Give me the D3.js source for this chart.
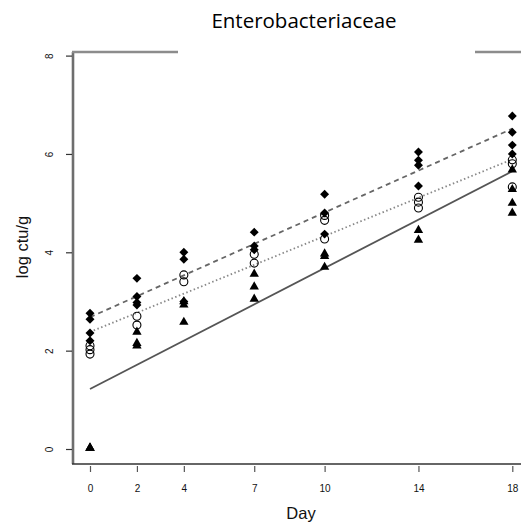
<!DOCTYPE html>
<html>
<head>
<meta charset="utf-8">
<script src="https://cdn.jsdelivr.net/npm/d3@7"></script>
<style>
  body { margin: 0; background: #fff; }
  svg { display: block; }
</style>
</head>
<body>
<svg width="521" height="529"></svg>
<script>
// values
var days = [0, 2, 4, 7, 10, 14, 18];
var yTicks = [0, 2, 4, 6, 8];

var diamondVals = [[2.76, 2.64, 2.36, 2.2], [3.47, 3.1, 2.98, 2.93], [4.0, 3.86, 3.0],
                   [4.41, 4.13, 4.05], [5.18, 4.8, 4.37], [6.04, 5.87, 5.77, 5.35], [6.77, 6.44, 6.18, 6.0]];
var circleVals = [[2.1, 2.02, 1.93], [2.7, 2.52], [3.54, 3.4], [3.96, 3.78],
                  [4.75, 4.65, 4.27], [5.12, 5.02, 4.9], [5.88, 5.8, 5.33]];
var triangleVals = [[0.02, 0.02, 0.02], [2.38, 2.15, 2.1], [3.0, 2.93, 2.58], [3.56, 3.3, 3.05],
                    [3.97, 3.92, 3.7], [4.45, 4.25], [5.68, 5.28, 5.0, 4.8]];

// fitted lines: [intercept, slope]
var fitDiamond = [2.68, 0.213];
var fitCircle = [2.38, 0.195];
var fitTriangle = [1.22, 0.246];

var svg = d3.select("svg");

var x = d3.scaleLinear().domain([0, 18]).range([90, 512.3]);
var y = d3.scaleLinear().domain([0, 8]).range([449, 55.6]);

function flatten(vals) {
  var out = [];
  vals.forEach(function(v, i) {
    v.forEach(function(d) { out.push({day: days[i], value: d}); });
  });
  return out;
}

// frame: left axis line and top line (partly hidden behind title)
svg.append("line")
  .attr("x1", 73).attr("x2", 73).attr("y1", 52).attr("y2", 464)
  .attr("stroke", "#6e6e6e").attr("stroke-width", 2.6);
svg.append("line")
  .attr("x1", 72).attr("x2", 521).attr("y1", 52).attr("y2", 52)
  .attr("stroke", "#8c8c8c").attr("stroke-width", 2.6);
svg.append("line")
  .attr("x1", 72).attr("x2", 521).attr("y1", 464).attr("y2", 464)
  .attr("stroke", "#333").attr("stroke-width", 1.4);

// white box of the title covers the middle of the top line
svg.append("rect")
  .attr("x", 178).attr("y", 44).attr("width", 297).attr("height", 14)
  .attr("fill", "#fff");

// axes
var xAxis = svg.append("g")
  .attr("transform", "translate(0,466)")
  .call(d3.axisBottom(x).tickValues(days).tickSize(6).tickPadding(13).tickFormat(d3.format("d")));
xAxis.select(".domain").remove();
xAxis.selectAll("line").attr("stroke", "#555").attr("stroke-width", 1.2);
xAxis.selectAll("text").attr("font-family", "Liberation Sans, Arial, sans-serif")
  .attr("font-size", 10).attr("fill", "#111");

var yAxis = svg.append("g")
  .attr("transform", "translate(72,0)")
  .call(d3.axisLeft(y).tickValues(yTicks).tickSize(6).tickFormat(d3.format("d")));
yAxis.select(".domain").remove();
yAxis.selectAll("line").attr("stroke", "#333").attr("stroke-width", 1.2);
yAxis.selectAll("text")
  .attr("font-family", "Liberation Sans, Arial, sans-serif")
  .attr("font-size", 10).attr("fill", "#111")
  .attr("x", null).attr("dy", null)
  .attr("text-anchor", "middle")
  .attr("transform", "translate(-19,0) rotate(-90)");

// axis titles
svg.append("text")
  .attr("x", 301).attr("y", 519)
  .attr("text-anchor", "middle")
  .attr("font-family", "Liberation Sans, Arial, sans-serif")
  .attr("font-size", 16.5).attr("fill", "#111")
  .text("Day");
svg.append("text")
  .attr("transform", "translate(28,247) rotate(-90)")
  .attr("text-anchor", "middle")
  .attr("font-family", "Liberation Sans, Arial, sans-serif")
  .attr("font-size", 16.5).attr("fill", "#111")
  .text("log ctu/g");

svg.append("text")
  .attr("x", 304).attr("y", 28)
  .attr("text-anchor", "middle")
  .attr("font-family", "Open Sans, sans-serif")
  .attr("font-size", 20.5).attr("fill", "#000")
  .text("Enterobacteriaceae");

// fitted lines
function fitLine(fit, dash, color) {
  svg.append("line")
    .attr("x1", x(0)).attr("y1", y(fit[0]))
    .attr("x2", x(18)).attr("y2", y(fit[0] + fit[1] * 18))
    .attr("stroke", color).attr("stroke-width", 1.8)
    .attr("stroke-dasharray", dash);
}
fitLine(fitDiamond, "5,4", "#666");
fitLine(fitCircle, "1.5,2.5", "#888");
fitLine(fitTriangle, null, "#555");

// points
svg.append("g").selectAll("path")
  .data(flatten(diamondVals))
  .enter().append("path")
  .attr("d", d3.symbol(d3.symbolSquare, 40))
  .attr("transform", function(d) { return "translate(" + x(d.day) + "," + y(d.value) + ") rotate(45)"; })
  .attr("fill", "#000");

svg.append("g").selectAll("circle")
  .data(flatten(circleVals))
  .enter().append("circle")
  .attr("cx", function(d) { return x(d.day); })
  .attr("cy", function(d) { return y(d.value); })
  .attr("r", 4)
  .attr("fill", "none").attr("stroke", "#000").attr("stroke-width", 1.1);

svg.append("g").selectAll("path")
  .data(flatten(triangleVals))
  .enter().append("path")
  .attr("d", d3.symbol(d3.symbolTriangle, 38))
  .attr("transform", function(d) { return "translate(" + x(d.day) + "," + y(d.value) + ")"; })
  .attr("fill", "#000");
</script>
</body>
</html>
